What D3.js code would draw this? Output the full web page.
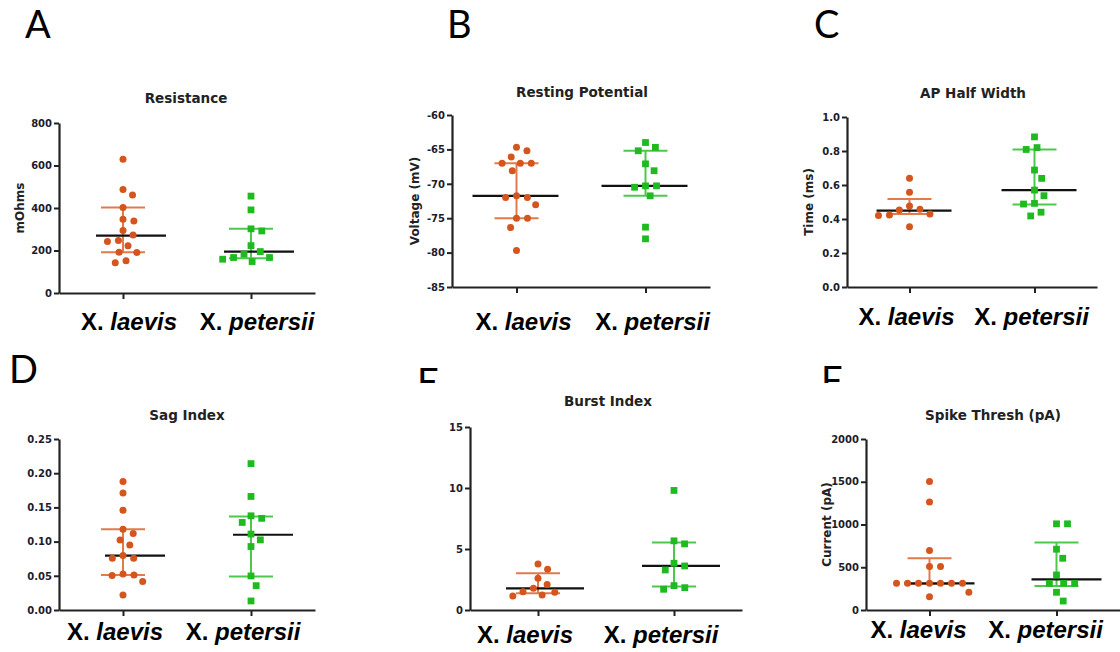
<!DOCTYPE html>
<html>
<head>
<meta charset="utf-8">
<script src="https://cdn.jsdelivr.net/npm/d3@7"></script>
<style>
  body { margin: 0; background: #fff; }
  svg { display: block; }
  .tick text { font-family: "DejaVu Sans", sans-serif; font-weight: bold; font-size: 10px; fill: #1c1c2c; }
</style>
</head>
<body>
<svg id="chart" width="1120" height="652"></svg>
<script>
const species = ['laevis', 'petersii'];

// A: Resistance (mOhms)
const resistanceLaevis = [630, 487, 461, 402, 347, 339, 294, 273, 247, 242, 222, 192, 191, 152, 142];
const resistancePetersii = [456, 391, 302, 292, 223, 195, 183, 167, 167, 159, 148];
const resistanceMedian = [270, 195];
const resistanceQ1 = [192, 164];
const resistanceQ3 = [402, 302];

// B: Resting potential (mV)
const restingLaevis = [-64.7, -65.2, -66.1, -67.0, -67.0, -67.0, -68.1, -71.75, -72.0, -72.0, -73.05, -75.0, -75.0, -76.35, -79.7];
const restingPetersii = [-64.0, -64.7, -65.2, -67.1, -68.1, -70.3, -70.3, -70.5, -71.75, -76.3, -78.0];
const restingMedian = [-71.75, -70.3];
const restingQ1 = [-75.0, -71.75];
const restingQ3 = [-67.0, -65.2];

// C: AP half width (ms)
const halfWidthLaevis = [0.639, 0.557, 0.477, 0.457, 0.453, 0.43, 0.424, 0.42, 0.355];
const halfWidthPetersii = [0.883, 0.82, 0.809, 0.688, 0.639, 0.57, 0.537, 0.492, 0.488, 0.44, 0.418];
const halfWidthMedian = [0.449, 0.570];
const halfWidthQ1 = [0.43, 0.486];
const halfWidthQ3 = [0.518, 0.809];

// D: Sag index
const sagLaevis = [0.188, 0.171, 0.146, 0.118, 0.112, 0.1025, 0.095, 0.0796, 0.0757, 0.0757, 0.0527, 0.0513, 0.0503, 0.0415, 0.022];
const sagPetersii = [0.214, 0.166, 0.1377, 0.134, 0.128, 0.111, 0.1025, 0.0928, 0.0498, 0.0356, 0.0132];
const sagMedian = [0.0796, 0.110];
const sagQ1 = [0.0513, 0.0488];
const sagQ3 = [0.118, 0.1367];

// E: Burst index
const burstLaevis = [3.78, 3.34, 2.6, 2.1, 1.78, 1.5, 1.45, 1.23, 1.15];
const burstPetersii = [9.8, 5.67, 5.42, 3.83, 3.61, 3.28, 2.0, 1.83, 1.7];
const burstMedian = [1.78, 3.61];
const burstQ1 = [1.37, 1.92];
const burstQ3 = [3.01, 5.53];

// F: Spike threshold (pA)
const spikeLaevis = [1504, 1262, 695, 508, 508, 312, 312, 312, 312, 312, 312, 312, 207, 156];
const spikePetersii = [1008, 1008, 711, 605, 410, 312, 312, 312, 207, 105];
const spikeMedian = [312, 359];
const spikeQ1 = [305, 281];
const spikeQ3 = [605, 789];

const colors = {
  laevis: { point: '#d4561e', bar: '#e27a4c' },
  petersii: { point: '#1fba1f', bar: '#4cc94c' }
};

// plain hyphen for negatives, as in the original figure
const intFmt = d => String(d);

const panels = [
  { letter: 'A', lx: 25, ly: 38, title: 'Resistance', ylabel: 'mOhms',
    series: [resistanceLaevis, resistancePetersii], med: resistanceMedian, q1: resistanceQ1, q3: resistanceQ3,
    domain: [0, 800], ticks: [0, 200, 400, 600, 800], fmt: intFmt,
    x0: 59, x1: 315, yTop: 123, yBot: 293, titleX: 186, titleY: 103, yLabelX: 24, labelY: 330, labelShift: 6, medExt: [-27, 43] },
  { letter: 'B', lx: 447, ly: 38, title: 'Resting Potential', ylabel: 'Voltage (mV)',
    series: [restingLaevis, restingPetersii], med: restingMedian, q1: restingQ1, q3: restingQ3,
    domain: [-85, -60], ticks: [-85, -80, -75, -70, -65, -60], fmt: intFmt,
    x0: 452, x1: 710, yTop: 115, yBot: 287, titleX: 582, titleY: 97, yLabelX: 419, labelY: 330, labelShift: 7, medExt: [-44, 42] },
  { letter: 'C', lx: 814, ly: 38, title: 'AP Half Width', ylabel: 'Time (ms)',
    series: [halfWidthLaevis, halfWidthPetersii], med: halfWidthMedian, q1: halfWidthQ1, q3: halfWidthQ3,
    domain: [0, 1], ticks: [0, 0.2, 0.4, 0.6, 0.8, 1.0], fmt: d3.format('.1f'),
    x0: 847, x1: 1097, yTop: 117, yBot: 287, titleX: 973, titleY: 98, yLabelX: 813, labelY: 325, labelShift: -3, medExt: [-33, 42] },
  { letter: 'D', lx: 9, ly: 383, title: 'Sag Index', ylabel: null,
    series: [sagLaevis, sagPetersii], med: sagMedian, q1: sagQ1, q3: sagQ3,
    domain: [0, 0.25], ticks: [0, 0.05, 0.1, 0.15, 0.2, 0.25], fmt: d3.format('.2f'),
    x0: 59, x1: 315, yTop: 439, yBot: 610, titleX: 187, titleY: 420, yLabelX: 0, labelY: 640, labelShift: -8, medExt: [-18, 42] },
  { letter: 'E', lx: 417, ly: 396, title: 'Burst Index', ylabel: null,
    series: [burstLaevis, burstPetersii], med: burstMedian, q1: burstQ1, q3: burstQ3,
    domain: [0, 15], ticks: [0, 5, 10, 15], fmt: intFmt,
    x0: 470, x1: 742, yTop: 427, yBot: 610, titleX: 608, titleY: 406, yLabelX: 0, labelY: 643, labelShift: -13, medExt: [-32, 46] },
  { letter: 'F', lx: 821, ly: 394, title: 'Spike Thresh (pA)', ylabel: 'Current (pA)',
    series: [spikeLaevis, spikePetersii], med: spikeMedian, q1: spikeQ1, q3: spikeQ3,
    domain: [0, 2000], ticks: [0, 500, 1000, 1500, 2000], fmt: intFmt,
    x0: 866, x1: 1120, yTop: 439, yBot: 610, titleX: 993, titleY: 420, yLabelX: 831, labelY: 638, labelShift: -11, medExt: [-25, 45] }
];

const svg = d3.select('#chart');

// letters E and F are cut off by the lower panels in the original
svg.append('defs').append('clipPath').attr('id', 'letterClip')
  .append('rect').attr('x', 0).attr('y', 0).attr('width', 1120).attr('height', 383);

// simple beeswarm: nearest free horizontal offset for each point
function swarm(values, y, d) {
  const placed = [];
  const out = new Array(values.length);
  const order = values.map((v, i) => i).sort((a, b) => values[b] - values[a]);
  for (const i of order) {
    const py = y(values[i]);
    const blocks = [];
    for (const p of placed) {
      const dy = Math.abs(p.y - py);
      if (dy < d) {
        const w = Math.sqrt(d * d - dy * dy);
        blocks.push([p.x - w, p.x + w]);
      }
    }
    const cands = [0, ...blocks.flat()].sort((a, b) => Math.abs(a) - Math.abs(b) || b - a);
    const x = cands.find(c => blocks.every(b => c <= b[0] + 1e-6 || c >= b[1] - 1e-6));
    placed.push({ x, y: py });
    out[i] = x;
  }
  return out;
}

panels.forEach(p => {
  const g = svg.append('g');

  g.append('text')
    .attr('x', p.lx).attr('y', p.ly)
    .attr('clip-path', 'url(#letterClip)')
    .style('font-family', 'Lato, sans-serif')
    .style('font-size', '38px')
    .attr('fill', '#000')
    .text(p.letter);

  const x = d3.scalePoint().domain(species).range([p.x0, p.x1]).padding(0.5);
  const y = d3.scaleLinear().domain(p.domain).range([p.yBot, p.yTop]);

  g.append('text')
    .attr('x', p.titleX).attr('y', p.titleY)
    .attr('text-anchor', 'middle')
    .style('font-family', '"DejaVu Sans", sans-serif')
    .style('font-weight', 'bold')
    .style('font-size', '13.5px')
    .attr('fill', '#222')
    .text(p.title);

  const yAxis = g.append('g')
    .attr('transform', `translate(${p.x0},0)`)
    .call(d3.axisLeft(y).tickValues(p.ticks).tickFormat(p.fmt).tickSize(5).tickSizeOuter(0).tickPadding(2));
  const xAxis = g.append('g')
    .attr('transform', `translate(0,${p.yBot})`)
    .call(d3.axisBottom(x).tickFormat('').tickSize(6).tickSizeOuter(0));
  [yAxis, xAxis].forEach(a => {
    a.select('.domain').attr('stroke', '#222').attr('stroke-width', 2.2);
    a.selectAll('.tick line').attr('stroke', '#222').attr('stroke-width', 2);
  });

  if (p.ylabel) {
    g.append('text')
      .attr('transform', `translate(${p.yLabelX},${(p.yTop + p.yBot) / 2}) rotate(-90)`)
      .attr('text-anchor', 'middle')
      .style('font-family', '"DejaVu Sans", sans-serif')
      .style('font-weight', 'bold')
      .style('font-size', '12px')
      .attr('fill', '#222')
      .text(p.ylabel);
  }

  species.forEach((sp, k) => {
    const cx = x(sp);
    const c = colors[sp];

    // interquartile bar with caps
    g.append('line')
      .attr('x1', cx).attr('x2', cx)
      .attr('y1', y(p.q1[k])).attr('y2', y(p.q3[k]))
      .attr('stroke', c.bar).attr('stroke-width', 2);
    [p.q1[k], p.q3[k]].forEach(v => {
      g.append('line')
        .attr('x1', cx - 22).attr('x2', cx + 22)
        .attr('y1', y(v)).attr('y2', y(v))
        .attr('stroke', c.bar).attr('stroke-width', 2);
    });

    // median
    g.append('line')
      .attr('x1', cx + p.medExt[0]).attr('x2', cx + p.medExt[1])
      .attr('y1', y(p.med[k])).attr('y2', y(p.med[k]))
      .attr('stroke', '#111').attr('stroke-width', 2.2);

    const vals = p.series[k];
    const offs = swarm(vals, y, 11);
    if (sp === 'laevis') {
      g.append('g').selectAll('circle')
        .data(vals)
        .join('circle')
        .attr('cx', (d, i) => cx + offs[i])
        .attr('cy', d => y(d))
        .attr('r', 3.5)
        .attr('fill', c.point);
    } else {
      g.append('g').selectAll('rect')
        .data(vals)
        .join('rect')
        .attr('x', (d, i) => cx + offs[i] - 3.4)
        .attr('y', d => y(d) - 3.4)
        .attr('width', 6.8).attr('height', 6.8)
        .attr('fill', c.point);
    }

    const label = g.append('text')
      .attr('x', cx + p.labelShift).attr('y', p.labelY)
      .attr('text-anchor', 'middle')
      .style('font-family', '"Liberation Sans", Arial, sans-serif')
      .style('font-weight', 'bold')
      .style('font-size', '24px')
      .attr('fill', '#000');
    label.append('tspan').text('X. ');
    label.append('tspan').style('font-style', 'italic').text(sp);
  });
});
</script>
</body>
</html>
